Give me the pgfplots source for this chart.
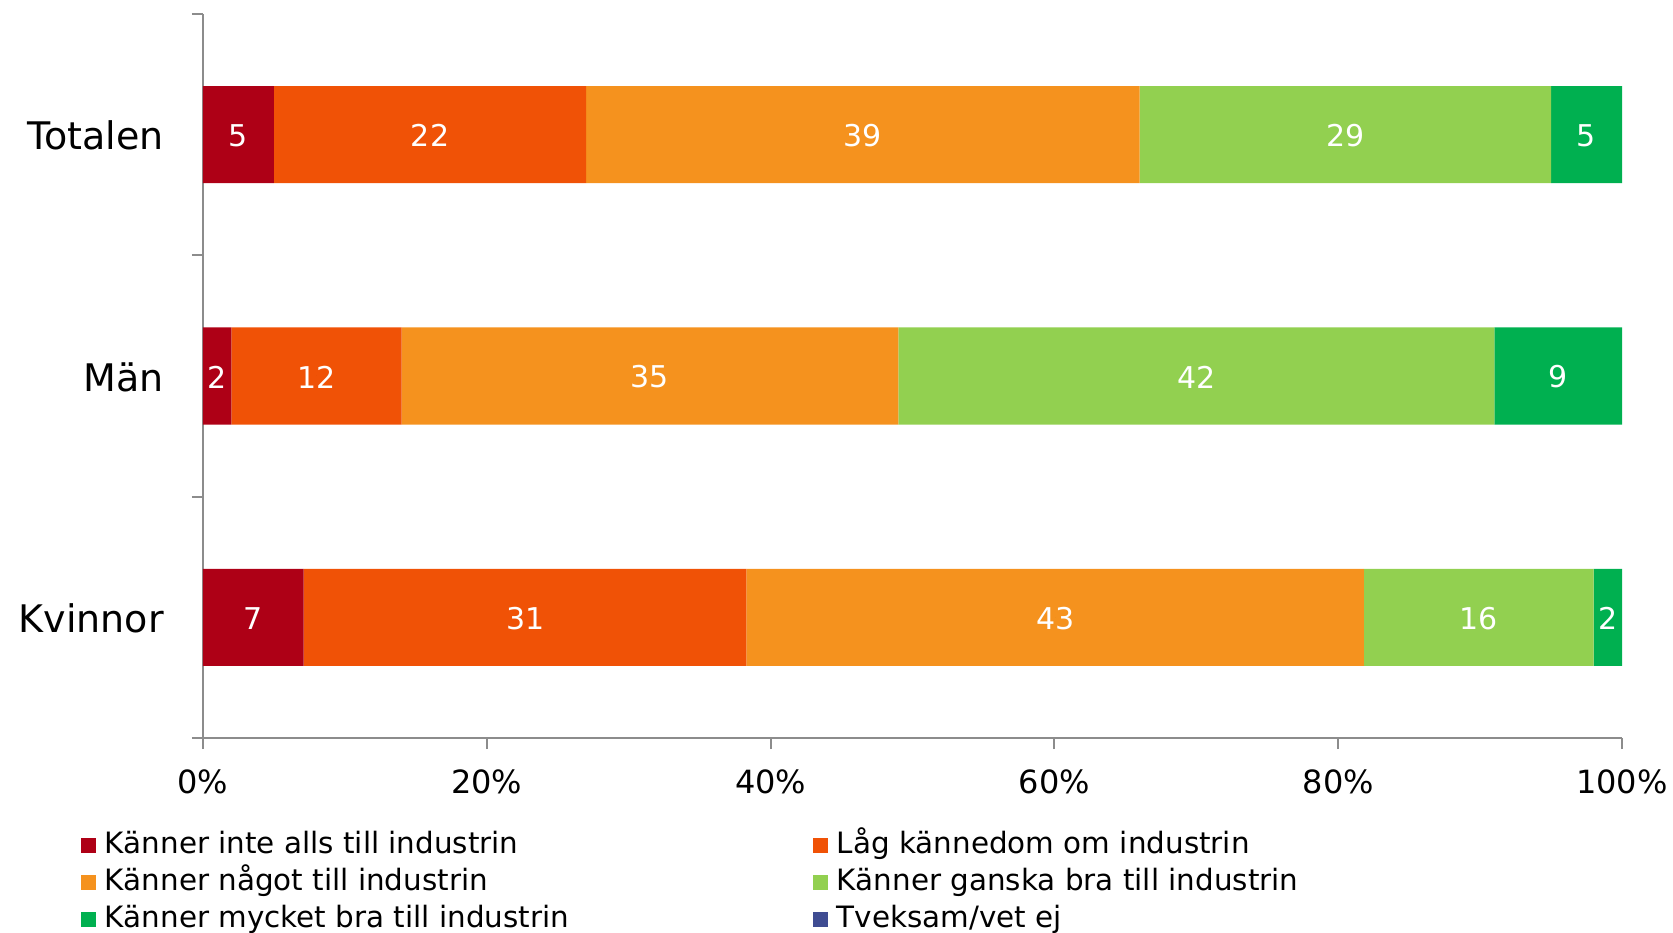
\documentclass[border=0pt]{standalone}
\usepackage{pgfplots}
\pgfplotsset{compat=1.18}
\usepackage{pgfplotstable}
\usepackage{fontspec}
\setmainfont{DejaVu Sans}
\definecolor{cA}{HTML}{AE0016}
\definecolor{cB}{HTML}{F05206}
\definecolor{cC}{HTML}{F5921E}
\definecolor{cD}{HTML}{92D050}
\definecolor{cE}{HTML}{00B050}
\definecolor{cF}{HTML}{3F4C92}
\definecolor{axgray}{HTML}{8C8C8C}
\pgfplotsset{sq/.style={legend image code/.code={\fill[##1] (0bp,-3.75bp) rectangle (7.5bp,3.75bp);}}}
\pgfplotstableread{
x y l
2.5 2 5
16 2 22
46.5 2 39
80.5 2 29
97.5 2 5
1 1 2
8 1 12
31.5 1 35
70 1 42
95.5 1 9
3.55 0 7
22.7 0 31
60.05 0 43
89.9 0 16
99.0 0 2
}\labels
\begin{document}
\begin{tikzpicture}
\begin{axis}[
  name=main,
  scale only axis, width=709.5bp, height=362bp,
  xbar stacked, bar width=48.5bp,
  xmin=0, xmax=100, ymin=-0.5, ymax=2.5,
  enlargelimits=false,
  axis lines*=left,
  axis line style={axgray, line width=1bp},
  tick align=outside,
  major tick length=5.5bp,
  tick style={axgray, line width=1bp},
  xtick={0,20,...,100},
  xticklabel={\pgfmathprintnumber{\tick}\%},
  /pgf/number format/assume math mode=true,
  xticklabel style={font=\fontsize{16bp}{19bp}\selectfont, anchor=north, inner sep=0pt, yshift=-10bp},
  ytick={-0.5,0.5,1.5,2.5},
  yticklabels={},
  extra y ticks={0,1,2},
  extra y tick labels={Kvinnor,Män,Totalen},
  extra y tick style={tick style={draw=none}, yticklabel style={font=\fontsize{19bp}{22bp}\selectfont, anchor=east, inner sep=0pt, xshift=-14bp, yshift=-0.5bp}},
  legend columns=2,
  legend cell align=left,
  legend style={draw=none, fill=none, inner sep=0pt, outer sep=0pt, row sep=4.5bp, column sep=0pt,
    at={(0,0)}, anchor=north west, xshift=-61bp, yshift=-46.5bp,
    font=\fontsize{14.7bp}{17bp}\selectfont,
    nodes={inner sep=0pt, text height=11bp, text depth=3bp}},
]
\addplot[fill=cA, draw=none, sq] coordinates {(7.1,0) (2,1) (5,2)};
\addlegendentry{\makebox[358.5bp][l]{\hspace{4.5bp}Känner inte alls till industrin}}
\addplot[fill=cB, draw=none, sq] coordinates {(31.2,0) (12,1) (22,2)};
\addlegendentry{\hspace{4.5bp}Låg kännedom om industrin}
\addplot[fill=cC, draw=none, sq] coordinates {(43.5,0) (35,1) (39,2)};
\addlegendentry{\makebox[358.5bp][l]{\hspace{4.5bp}Känner något till industrin}}
\addplot[fill=cD, draw=none, sq] coordinates {(16.2,0) (42,1) (29,2)};
\addlegendentry{\hspace{4.5bp}Känner ganska bra till industrin}
\addplot[fill=cE, draw=none, sq] coordinates {(2.0,0) (9,1) (5,2)};
\addlegendentry{\makebox[358.5bp][l]{\hspace{4.5bp}Känner mycket bra till industrin}}
\addlegendimage{fill=cF, draw=none, sq}
\addlegendentry{\hspace{4.5bp}Tveksam/vet ej}
\end{axis}
\begin{axis}[
  at={(main.south west)}, anchor=south west,
  scale only axis, width=709.5bp, height=362bp,
  xmin=0, xmax=100, ymin=-0.5, ymax=2.5,
  hide axis,
]
\addplot[only marks, mark=*, mark size=0pt, mark options={draw=none, fill=none},
  point meta=explicit symbolic, nodes near coords,
  every node near coord/.style={anchor=center, text=white, inner sep=0pt, yshift=-0.5bp, font=\fontsize{15bp}{18bp}\selectfont}]
  table[x=x, y=y, meta=l] {\labels};
\end{axis}
\pgfresetboundingbox
\path[use as bounding box] ([xshift=-101.5bp, yshift=-97.5bp]main.south west) rectangle ++(836.5bp,466.5bp);
\end{tikzpicture}
\end{document}
